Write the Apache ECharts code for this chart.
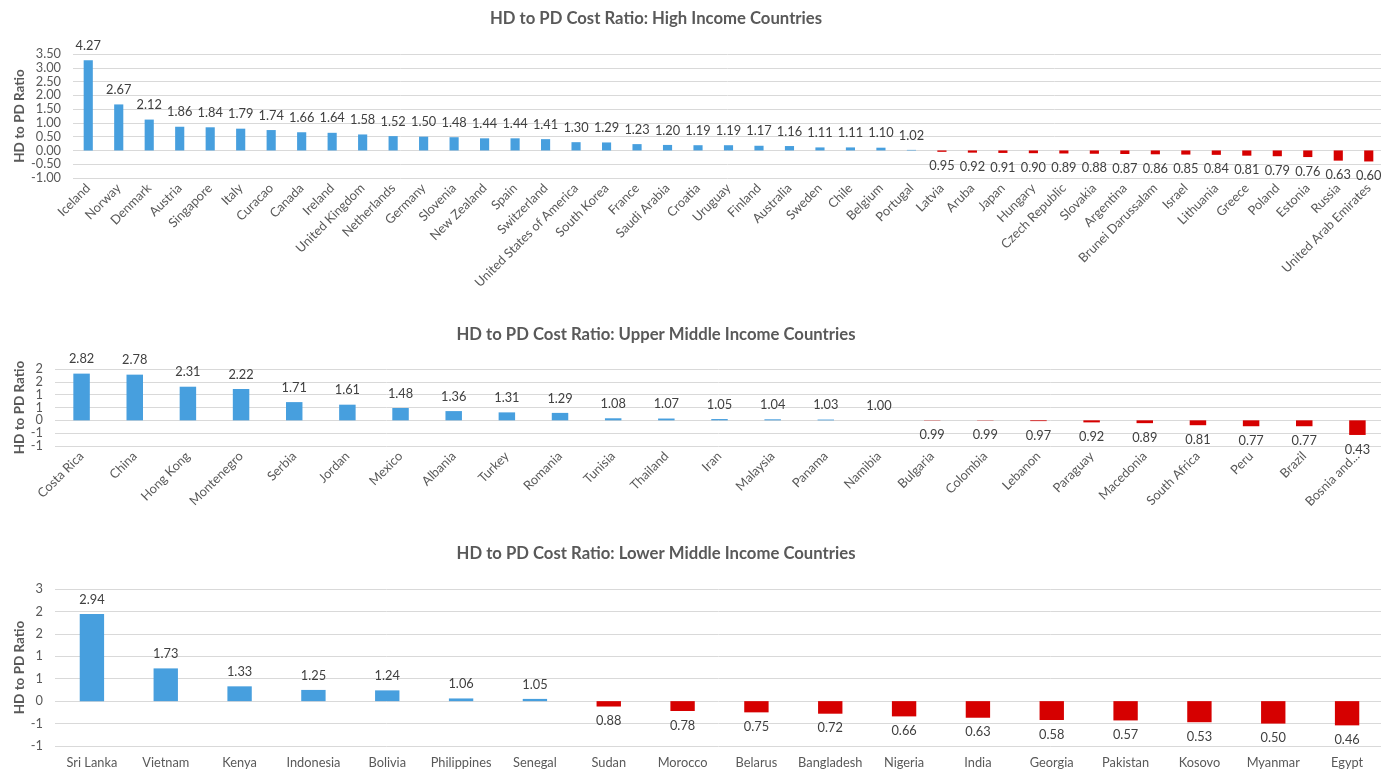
<!DOCTYPE html>
<html>
<head>
<meta charset="utf-8">
<script src="https://cdn.jsdelivr.net/npm/echarts@6/dist/echarts.min.js"></script>
<style>
  html, body { margin: 0; padding: 0; background: #fff; }
  #chart { width: 1381px; height: 769px; }
</style>
</head>
<body>
<div id="chart"></div>
<script>
// HD to PD cost ratios
const highCountries = ['Iceland', 'Norway', 'Denmark', 'Austria', 'Singapore', 'Italy', 'Curacao', 'Canada',
  'Ireland', 'United Kingdom', 'Netherlands', 'Germany', 'Slovenia', 'New Zealand', 'Spain', 'Switzerland',
  'United States of America', 'South Korea', 'France', 'Saudi Arabia', 'Croatia', 'Uruguay', 'Finland',
  'Australia', 'Sweden', 'Chile', 'Belgium', 'Portugal', 'Latvia', 'Aruba', 'Japan', 'Hungary',
  'Czech Republic', 'Slovakia', 'Argentina', 'Brunei Darussalam', 'Israel', 'Lithuania', 'Greece',
  'Poland', 'Estonia', 'Russia', 'United Arab Emirates']
const highRatios = [4.27, 2.67, 2.12, 1.86, 1.84, 1.79, 1.74, 1.66, 1.64, 1.58, 1.52, 1.50, 1.48, 1.44,
  1.44, 1.41, 1.30, 1.29, 1.23, 1.20, 1.19, 1.19, 1.17, 1.16, 1.11, 1.11, 1.10, 1.02, 0.95, 0.92, 0.91,
  0.90, 0.89, 0.88, 0.87, 0.86, 0.85, 0.84, 0.81, 0.79, 0.76, 0.63, 0.60]

const upperCountries = ['Costa Rica', 'China', 'Hong Kong', 'Montenegro', 'Serbia', 'Jordan', 'Mexico',
  'Albania', 'Turkey', 'Romania', 'Tunisia', 'Thailand', 'Iran', 'Malaysia', 'Panama', 'Namibia',
  'Bulgaria', 'Colombia', 'Lebanon', 'Paraguay', 'Macedonia', 'South Africa', 'Peru', 'Brazil',
  'Bosnia and...']
const upperRatios = [2.82, 2.78, 2.31, 2.22, 1.71, 1.61, 1.48, 1.36, 1.31, 1.29, 1.08, 1.07, 1.05, 1.04,
  1.03, 1.00, 0.99, 0.99, 0.97, 0.92, 0.89, 0.81, 0.77, 0.77, 0.43]

const lowerCountries = ['Sri Lanka', 'Vietnam', 'Kenya', 'Indonesia', 'Bolivia', 'Philippines', 'Senegal',
  'Sudan', 'Morocco', 'Belarus', 'Bangladesh', 'Nigeria', 'India', 'Georgia', 'Pakistan', 'Kosovo',
  'Myanmar', 'Egypt']
const lowerRatios = [2.94, 1.73, 1.33, 1.25, 1.24, 1.06, 1.05, 0.88, 0.78, 0.75, 0.72, 0.66, 0.63, 0.58,
  0.57, 0.53, 0.50, 0.46]

const titles = ['HD to PD Cost Ratio: High Income Countries',
  'HD to PD Cost Ratio: Upper Middle Income Countries',
  'HD to PD Cost Ratio: Lower Middle Income Countries']

const BLUE = '#479fde'
const RED = '#d60000'
const FONT = 'Lato'
const GREY = '#595959'

// bars are drawn relative to a ratio of 1, labels show the ratio itself
function barData(ratios) {
  return ratios.map(r => ({
    value: Math.round((r - 1) * 100) / 100,
    itemStyle: {color: r >= 1 ? BLUE : RED},
    label: {position: r >= 1 ? 'top' : 'bottom'}
  }))
}

function excelInt(v) {
  let n = Math.sign(v) * Math.round(Math.abs(v))
  return n === 0 ? '0' : String(n)
}

let panels = [
  {cats: highCountries, ratios: highRatios, top: 54, height: 124, left: 73, max: 3.5,
    fmt: v => v.toFixed(2), rotate: 45, barWidth: '30%', titleTop: 10, nameGap: 46},
  {cats: upperCountries, ratios: upperRatios, top: 369, height: 77, left: 55, max: 2,
    fmt: excelInt, rotate: 45, barWidth: '31%', titleTop: 326, nameGap: 28},
  {cats: lowerCountries, ratios: lowerRatios, top: 589, height: 157, left: 55, max: 2.5,
    fmt: excelInt, rotate: 0, barWidth: '33%', titleTop: 545, nameGap: 28}
]

let chart = echarts.init(document.getElementById('chart'))
chart.setOption({
  animation: false,
  textStyle: {fontFamily: FONT},
  title: panels.map((p, i) => ({
    text: titles[i],
    left: 656,
    textAlign: 'center',
    top: p.titleTop,
    padding: 0,
    textStyle: {fontFamily: FONT, fontSize: 16.7, fontWeight: 'bold', color: GREY}
  })),
  grid: panels.map(p => ({
    left: p.left, right: -3, top: p.top, height: p.height,
    containLabel: false, outerBoundsMode: 'none'
  })),
  xAxis: panels.map((p, i) => ({
    type: 'category',
    gridIndex: i,
    data: p.cats,
    axisLine: {show: false, onZero: false},
    axisTick: {show: false},
    axisLabel: {interval: 0, rotate: p.rotate, margin: p.rotate ? 8 : 10,
      fontFamily: FONT, fontSize: 12.8, color: GREY}
  })),
  yAxis: panels.map((p, i) => ({
    type: 'value',
    gridIndex: i,
    min: -1,
    max: p.max,
    interval: 0.5,
    name: 'HD to PD Ratio',
    nameLocation: 'middle',
    nameGap: p.nameGap,
    nameMoveOverlap: false,
    nameTextStyle: {fontFamily: FONT, fontSize: 13.5, fontWeight: 'bold', color: GREY},
    axisLine: {show: false},
    axisTick: {show: false},
    splitLine: {lineStyle: {color: '#d9d9d9', width: 1}},
    axisLabel: {margin: 12, fontFamily: FONT, fontSize: 12.8, color: GREY, formatter: p.fmt}
  })),
  series: panels.map((p, i) => ({
    type: 'bar',
    xAxisIndex: i,
    yAxisIndex: i,
    barWidth: p.barWidth,
    data: barData(p.ratios),
    label: {
      show: true,
      distance: 8,
      fontFamily: FONT,
      fontSize: 12.8,
      color: '#404040',
      formatter: params => p.ratios[params.dataIndex].toFixed(2)
    }
  }))
})
</script>
</body>
</html>
